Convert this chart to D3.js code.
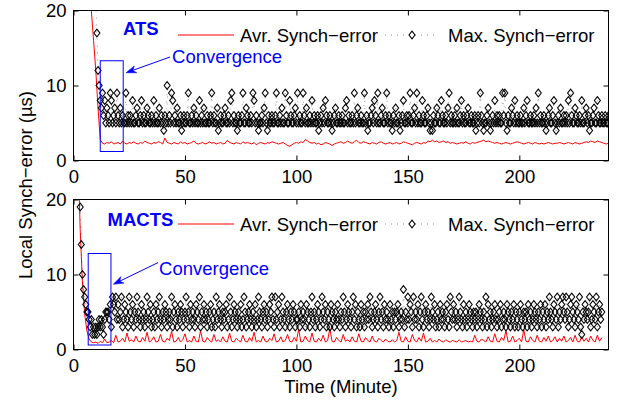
<!DOCTYPE html>
<html>
<head>
<meta charset="utf-8">
<script src="https://cdn.jsdelivr.net/npm/d3@7"></script>
<style>
    body { margin: 0; background: #fff; }
    svg { font-family: "Liberation Sans", Arial, Helvetica, sans-serif; }
</style>
</head>
<body>
<div id="chart"></div>
<script>
const xTicks = [0, 50, 100, 150, 200];
const yTicks = [0, 10, 20];
const legendLabels = ["Avr. Synch−error", "Max. Synch−error"];
const panelTitles = ["ATS", "MACTS"];

// average error: one sample per minute, starting at minute 1
const atsAvr = [
    95,70,55,44,36,29,24,20,16,12,7,2.8,
    2.3,2.2,2.4,2.3,2.5,2.2,2.3,2.4,2.2,2.6,2.3,2.2,
    2.4,2.3,2.5,2.3,2.2,2.4,2.3,2.6,2.4,2.3,2.2,2.4,
    2.3,2.5,2.4,2.2,3.0,2.4,2.3,2.2,2.4,2.3,2.2,2.5,
    2.3,2.4,2.2,2.3,2.4,2.6,2.3,2.2,2.3,2.4,2.2,2.3,
    2.5,2.3,2.4,2.2,2.3,2.4,2.2,2.3,2.7,2.4,2.3,2.2,
    2.4,2.3,2.2,2.5,2.3,2.4,2.3,2.2,2.4,2.1,2.3,2.4,
    2.3,2.2,2.4,2.3,2.5,2.4,2.3,2.2,2.3,2.4,2.2,2.0,
    1.9,2.1,2.3,2.4,2.3,2.5,2.4,2.8,2.6,2.4,2.3,2.4,
    2.2,2.3,2.1,2.2,2.4,2.3,2.2,2.0,2.2,2.3,2.4,2.5,
    2.3,2.4,2.6,2.4,2.3,2.5,2.7,2.4,2.3,2.5,2.4,2.3,
    2.2,2.4,2.3,2.2,2.4,2.5,2.3,2.2,2.3,2.4,2.2,2.3,
    2.4,2.2,2.3,2.5,2.4,2.3,2.2,2.1,2.3,2.4,2.3,2.2,
    2.4,2.3,2.6,2.5,2.7,2.5,2.6,2.4,2.5,2.6,2.4,2.5,
    2.3,2.4,2.3,2.2,2.3,2.4,2.3,2.5,2.3,2.2,2.4,2.3,
    2.4,2.5,2.6,2.7,2.5,2.6,2.5,2.4,2.3,2.4,2.3,2.2,
    2.3,2.4,2.3,2.2,2.3,2.4,2.5,2.4,2.3,2.2,2.3,2.4,
    2.3,2.2,2.4,2.3,2.2,2.3,2.2,2.3,2.4,2.3,2.2,2.3,
    2.3,2.4,2.3,2.2,2.3,2.4,2.3,2.2,2.4,2.3,2.2,2.3,
    2.4,2.5,2.4,2.6,2.5,2.4,2.6,2.5,2.4,2.3,2.2,2.3
];

// max error: one sample every half minute, starting at minute 0.5
const atsMax = [
    60,56,52,48,45,42,39,37,35,33,31,29,28,27,26,25,24,23,22,21,
    17,12,10,8,7,9,6,8,5,7,6,5,9,8,5,6,7,5,9,6,
    5,7,5,6,5,5,9,5,6,5,6,5,8,5,5,6,7,5,5,6,
    8,5,6,5,5,7,6,5,5,6,5,8,5,6,5,5,7,5,6,5,
    4,6,5,10,5,6,5,9,8,5,6,5,7,5,5,6,4,5,6,5,
    5,6,9,5,5,6,5,7,5,6,5,5,8,5,6,5,7,5,5,6,
    5,5,6,9,5,6,5,5,7,4,5,6,5,5,6,7,5,5,6,5,
    8,9,5,6,5,5,4,6,5,5,6,9,5,5,7,6,5,5,6,5,
    9,8,5,6,5,4,5,5,6,5,7,9,5,4,6,5,5,6,5,5,
    6,9,5,5,6,5,7,5,5,9,6,5,5,8,6,5,5,6,7,5,
    9,5,6,5,5,9,6,5,7,5,5,6,5,8,5,6,5,5,6,4,
    5,6,5,7,5,8,6,5,5,6,5,4,5,6,7,5,5,6,5,5,
    6,5,5,7,8,5,6,5,5,6,5,9,5,6,7,5,5,6,5,5,
    9,5,6,4,5,5,6,7,5,8,6,5,9,5,5,6,7,5,5,6,
    9,5,6,5,5,4,6,5,7,5,5,6,4,5,6,8,5,5,6,5,
    6,9,5,5,6,7,5,9,5,6,5,5,8,6,5,5,6,7,5,4,
    5,4,6,5,5,7,6,5,5,8,6,5,5,6,5,7,9,5,6,5,
    5,6,5,7,5,5,6,8,5,6,5,5,6,7,5,5,6,5,5,6,
    4,5,6,5,9,6,5,4,5,5,6,7,5,4,5,6,5,8,5,6,
    5,6,5,5,9,6,9,5,4,6,5,5,7,6,5,8,5,6,5,5,
    6,5,5,7,5,6,8,5,5,6,5,5,6,5,7,5,9,5,6,5,
    5,6,5,4,5,6,7,5,5,6,8,5,4,5,6,5,7,5,5,6,
    5,6,5,8,5,9,6,5,5,7,6,5,5,6,5,8,5,5,6,7,
    5,6,4,5,5,6,7,5,5,8,6,5,5,6,5,5,6,5,5,6
];

const mactsAvr = [
    40,26,16,9,4.8,2.5,1.4,1.0,
    0.9,1.0,0.8,1.1,0.9,1.4,0.9,1.0,1.2,0.9,
    1.9,1.0,1.1,1.5,1.0,2.2,1.1,1.3,1.0,1.8,
    1.1,1.0,1.6,1.1,2.3,1.0,1.2,1.7,1.0,1.1,
    2.0,1.1,1.0,1.5,1.2,2.4,1.0,1.1,1.6,1.0,
    1.3,2.1,1.0,1.2,1.0,1.8,1.1,1.0,2.5,1.1,
    1.0,1.6,1.2,1.0,2.0,1.1,1.3,1.0,1.7,1.1,
    1.0,2.2,1.1,1.0,1.5,1.2,1.0,1.9,1.1,1.0,
    1.6,1.1,2.3,1.0,1.2,1.0,1.8,1.1,1.0,1.5,
    1.2,2.1,1.0,1.1,1.7,1.0,1.2,2.0,1.1,1.0,
    1.6,1.1,2.7,1.0,1.1,1.8,1.2,1.0,2.2,1.1,
    1.0,1.5,1.1,1.9,1.0,1.2,2.8,1.1,1.0,1.6,
    1.2,1.0,2.0,1.1,1.3,1.0,1.7,1.1,1.0,2.1,
    1.1,1.0,1.6,1.2,1.0,1.8,1.1,1.0,1.5,1.2,
    1.0,1.4,1.1,1.0,1.3,1.0,1.2,2.3,1.1,1.0,
    1.7,1.1,1.0,2.0,1.2,1.0,1.6,1.1,2.2,1.0,
    1.1,1.5,1.0,1.2,1.0,1.4,1.1,1.0,1.3,1.1,
    1.0,1.2,1.1,1.0,1.3,1.0,1.1,1.2,1.0,1.1,
    1.0,1.9,1.1,1.0,1.4,1.2,1.0,1.7,1.1,1.0,
    2.1,1.1,1.0,1.6,1.2,2.5,1.0,1.1,1.8,1.0,
    1.2,1.5,1.0,2.6,1.1,1.0,1.7,1.2,1.0,1.9,
    1.1,1.0,1.6,1.1,1.8,1.0,1.2,1.7,1.0,1.5,
    1.1,1.8,1.0,1.2,1.6,1.0,1.9,1.1,1.0,1.7,
    1.1,1.5,1.0,1.8,1.2,1.0,1.9,1.1,1.6
];

const mactsMax = [
    36,31,27,24,21.5,19,14,10,8,7,6,5,5,4,3,4,2,3,2,3,
    2,3,4,3,4,3,2,4,5,5,5,4,6,3,7,6,5,7,4,6,
    4,5,7,3,4,6,5,4,3,7,5,4,6,3,5,4,7,5,4,3,
    6,4,5,3,4,7,5,4,6,3,4,5,3,6,4,5,7,4,3,5,
    4,6,5,3,4,5,4,7,3,5,6,4,3,5,4,6,5,3,4,5,
    7,4,5,3,6,4,5,4,3,6,5,4,7,3,5,4,6,4,5,3,
    4,5,6,3,4,5,3,7,4,5,6,4,3,5,4,5,6,3,4,7,
    5,3,4,6,5,4,3,5,4,6,3,4,7,5,3,4,5,6,4,3,
    5,4,6,3,4,7,5,4,3,5,6,4,5,3,4,6,5,7,4,3,
    7,4,5,6,3,4,7,5,4,3,5,6,4,3,5,4,6,5,3,4,
    4,5,3,6,4,5,4,3,6,5,4,3,5,7,4,5,3,4,6,5,
    3,4,7,5,4,6,3,5,4,3,6,5,4,3,5,4,6,4,3,5,
    4,7,5,3,4,6,5,4,3,5,7,4,6,3,5,4,3,6,4,5,
    3,5,4,6,4,7,5,3,4,5,6,4,3,5,7,4,5,3,6,4,
    5,4,3,6,4,5,3,5,4,5,6,3,4,5,4,8,3,5,4,7,
    4,6,5,3,7,4,5,4,6,3,5,7,4,3,5,6,4,5,3,4,
    7,5,4,6,3,4,5,3,6,4,5,4,3,5,6,4,3,7,5,4,
    6,4,5,3,4,7,5,4,3,6,4,5,3,4,6,5,4,3,5,4,
    5,3,4,6,5,4,3,5,4,7,3,6,4,5,3,4,5,6,4,3,
    4,5,6,3,4,5,4,3,6,5,4,3,5,4,6,3,5,4,3,5,
    6,4,3,5,4,5,3,6,4,5,3,4,6,5,4,3,5,4,6,3,
    5,4,6,3,5,4,7,5,4,3,6,5,4,7,3,5,4,6,7,5,
    4,7,5,3,4,6,7,5,4,3,6,5,4,7,3,2,5,4,6,5,
    4,5,7,3,4,6,5,4,7,3,5,6,4,5
];

class SynchPanel {
    constructor(_config, _avr, _max) {
        this.config = _config;
        this.avr = _avr;
        this.max = _max;
        this.InitVis();
    }

    InitVis() {
        const vis = this;
        const c = vis.config;

        vis.x = d3.scaleLinear().domain([0, 240]).range([c.left, c.right]);
        vis.y = d3.scaleLinear().domain([0, 20]).range([c.bottom, c.top]);

        vis.g = c.svg.append("g");

        vis.g.append("clipPath")
            .attr("id", "clip-" + c.name)
            .append("rect")
            .attr("x", c.left)
            .attr("y", c.top)
            .attr("width", c.right - c.left)
            .attr("height", c.bottom - c.top);

        const plot = vis.g.append("g").attr("clip-path", `url(#clip-${c.name})`);

        const avrLine = d3.line()
            .x((d, i) => vis.x((i + 1) * c.avrStep))
            .y(d => vis.y(d));
        const maxLine = d3.line()
            .x((d, i) => vis.x((i + 1) * c.maxStep))
            .y(d => vis.y(d));

        // average error (red line)
        plot.append("path")
            .datum(vis.avr)
            .attr("d", avrLine)
            .attr("fill", "none")
            .attr("stroke", "#ff0000")
            .attr("stroke-width", 1);

        // max error: dotted line + diamonds
        plot.append("path")
            .datum(vis.max)
            .attr("d", maxLine)
            .attr("fill", "none")
            .attr("stroke", "#000")
            .attr("stroke-opacity", 0.45)
            .attr("stroke-width", 0.9)
            .attr("stroke-dasharray", "1,6");

        plot.selectAll(".dia")
            .data(vis.max)
            .join("path")
            .attr("class", "dia")
            .attr("d", c.diamond)
            .attr("transform", (d, i) => `translate(${vis.x((i + 1) * c.maxStep)},${vis.y(d)})`)
            .attr("fill", "none")
            .attr("stroke", "#000")
            .attr("stroke-width", 1.1);

        vis.DrawAxes();
        vis.DrawLegend();
        vis.DrawNotes();
    }

    DrawAxes() {
        const vis = this;
        const c = vis.config;

        const styleAxis = a => {
            a.select(".domain").remove();
            a.attr("font-family", null).attr("font-size", c.fontSize);
            a.selectAll("line").attr("stroke", "#000");
            a.selectAll("text").attr("fill", "#000");
        };

        vis.g.append("g")
            .attr("transform", `translate(0,${c.bottom})`)
            .call(d3.axisBottom(vis.x).tickValues(xTicks).tickSizeInner(-5).tickSizeOuter(0).tickPadding(9))
            .call(styleAxis);

        vis.g.append("g")
            .attr("transform", `translate(0,${c.top})`)
            .call(d3.axisTop(vis.x).tickValues(xTicks).tickSizeInner(-5).tickSizeOuter(0).tickFormat(""))
            .call(styleAxis);

        vis.g.append("g")
            .attr("transform", `translate(${c.left},0)`)
            .call(d3.axisLeft(vis.y).tickValues(yTicks).tickSizeInner(-5).tickSizeOuter(0).tickPadding(7))
            .call(styleAxis);

        vis.g.append("g")
            .attr("transform", `translate(${c.right},0)`)
            .call(d3.axisRight(vis.y).tickValues(yTicks).tickSizeInner(-5).tickSizeOuter(0).tickFormat(""))
            .call(styleAxis);

        vis.g.append("rect")
            .attr("x", c.left)
            .attr("y", c.top)
            .attr("width", c.right - c.left)
            .attr("height", c.bottom - c.top)
            .attr("fill", "none")
            .attr("stroke", "#000")
            .attr("stroke-width", 1);
    }

    DrawLegend() {
        const vis = this;
        const c = vis.config;
        const ly = Math.round(c.top + 24);

        vis.g.append("line")
            .attr("x1", 178).attr("x2", 234)
            .attr("y1", ly).attr("y2", ly)
            .attr("stroke", "#ff0000")
            .attr("stroke-width", 1);

        vis.g.append("text")
            .attr("x", 240)
            .attr("y", ly + 7)
            .attr("font-size", c.fontSize)
            .attr("fill", "#000")
            .text(legendLabels[0]);

        vis.g.append("line")
            .attr("x1", 385).attr("x2", 438)
            .attr("y1", ly).attr("y2", ly)
            .attr("stroke", "#000")
            .attr("stroke-opacity", 0.5)
            .attr("stroke-width", 0.9)
            .attr("stroke-dasharray", "1,5");

        vis.g.append("path")
            .attr("d", c.diamond)
            .attr("transform", `translate(412,${ly})`)
            .attr("fill", "#fff")
            .attr("stroke", "#000")
            .attr("stroke-width", 1.1);

        vis.g.append("text")
            .attr("x", 448)
            .attr("y", ly + 7)
            .attr("font-size", c.fontSize)
            .attr("fill", "#000")
            .text(legendLabels[1]);
    }

    DrawNotes() {
        const vis = this;
        const c = vis.config;
        const blue = "#0000ff";

        vis.g.append("text")
            .attr("x", c.titleX)
            .attr("y", c.titleY)
            .attr("font-size", c.fontSize)
            .attr("font-weight", "bold")
            .attr("fill", blue)
            .text(c.title);

        const b = c.box;
        vis.g.append("rect")
            .attr("x", vis.x(b[0]))
            .attr("y", vis.y(b[3]))
            .attr("width", vis.x(b[1]) - vis.x(b[0]))
            .attr("height", vis.y(b[2]) - vis.y(b[3]))
            .attr("fill", "none")
            .attr("stroke", blue)
            .attr("stroke-width", 1);

        const x0 = vis.x(c.arrow[0]), y0 = vis.y(c.arrow[1]);
        const x1 = vis.x(c.arrow[2]), y1 = vis.y(c.arrow[3]);
        const ang = Math.atan2(y1 - y0, x1 - x0);
        const hl = 10, hw = 3.6;

        vis.g.append("line")
            .attr("x1", x0).attr("y1", y0)
            .attr("x2", x1 - Math.cos(ang) * 6).attr("y2", y1 - Math.sin(ang) * 6)
            .attr("stroke", blue)
            .attr("stroke-width", 1);

        const bx = x1 - Math.cos(ang) * hl, by = y1 - Math.sin(ang) * hl;
        const nx = x1 - Math.cos(ang) * hl * 0.7, ny = y1 - Math.sin(ang) * hl * 0.7;
        vis.g.append("path")
            .attr("d", `M${x1},${y1}L${bx - Math.sin(ang) * hw},${by + Math.cos(ang) * hw}L${nx},${ny}L${bx + Math.sin(ang) * hw},${by - Math.cos(ang) * hw}Z`)
            .attr("fill", blue)
            .attr("stroke", blue)
            .attr("stroke-width", 0.6);

        vis.g.append("text")
            .attr("x", vis.x(c.noteAt[0]))
            .attr("y", vis.y(c.noteAt[1]))
            .attr("font-size", c.fontSize)
            .attr("fill", blue)
            .text("Convergence");
    }
}

const width = 621;
const height = 400;
const fontSize = "18.5px";
const diamond = "M0,-3.9L3,0L0,3.9L-3,0Z";

const svg = d3.select("#chart")
    .append("svg")
    .attr("width", width)
    .attr("height", height);

svg.append("rect").attr("width", width).attr("height", height).attr("fill", "#fff");

new SynchPanel({
    svg: svg, name: "ats", fontSize: fontSize, diamond: diamond,
    avrStep: 1, maxStep: 0.5,
    left: 73.5, right: 608.5, top: 10.5, bottom: 160.5,
    title: panelTitles[0], titleX: 123, titleY: 35,
    box: [12.0, 22.3, 1.2, 13.3],
    arrow: [43.3, 13.8, 23.6, 11.7],
    noteAt: [44.2, 13.0]
}, atsAvr, atsMax);

new SynchPanel({
    svg: svg, name: "macts", fontSize: fontSize, diamond: diamond,
    avrStep: 1, maxStep: 0.5,
    left: 73.5, right: 608.5, top: 199.5, bottom: 349.5,
    title: panelTitles[1], titleX: 107.5, titleY: 226,
    box: [6.6, 16.8, 0.6, 12.8],
    arrow: [38.0, 11.6, 17.9, 8.7],
    noteAt: [38.4, 10.0]
}, mactsAvr, mactsMax);

svg.append("text")
    .attr("x", (73.5 + 608.5) / 2)
    .attr("y", 393)
    .attr("text-anchor", "middle")
    .attr("font-size", fontSize)
    .attr("fill", "#000")
    .text("Time (Minute)");

svg.append("text")
    .attr("transform", "translate(32,185) rotate(-90)")
    .attr("text-anchor", "middle")
    .attr("font-size", fontSize)
    .attr("fill", "#000")
    .text("Local Synch−error (µs)");
</script>
</body>
</html>
